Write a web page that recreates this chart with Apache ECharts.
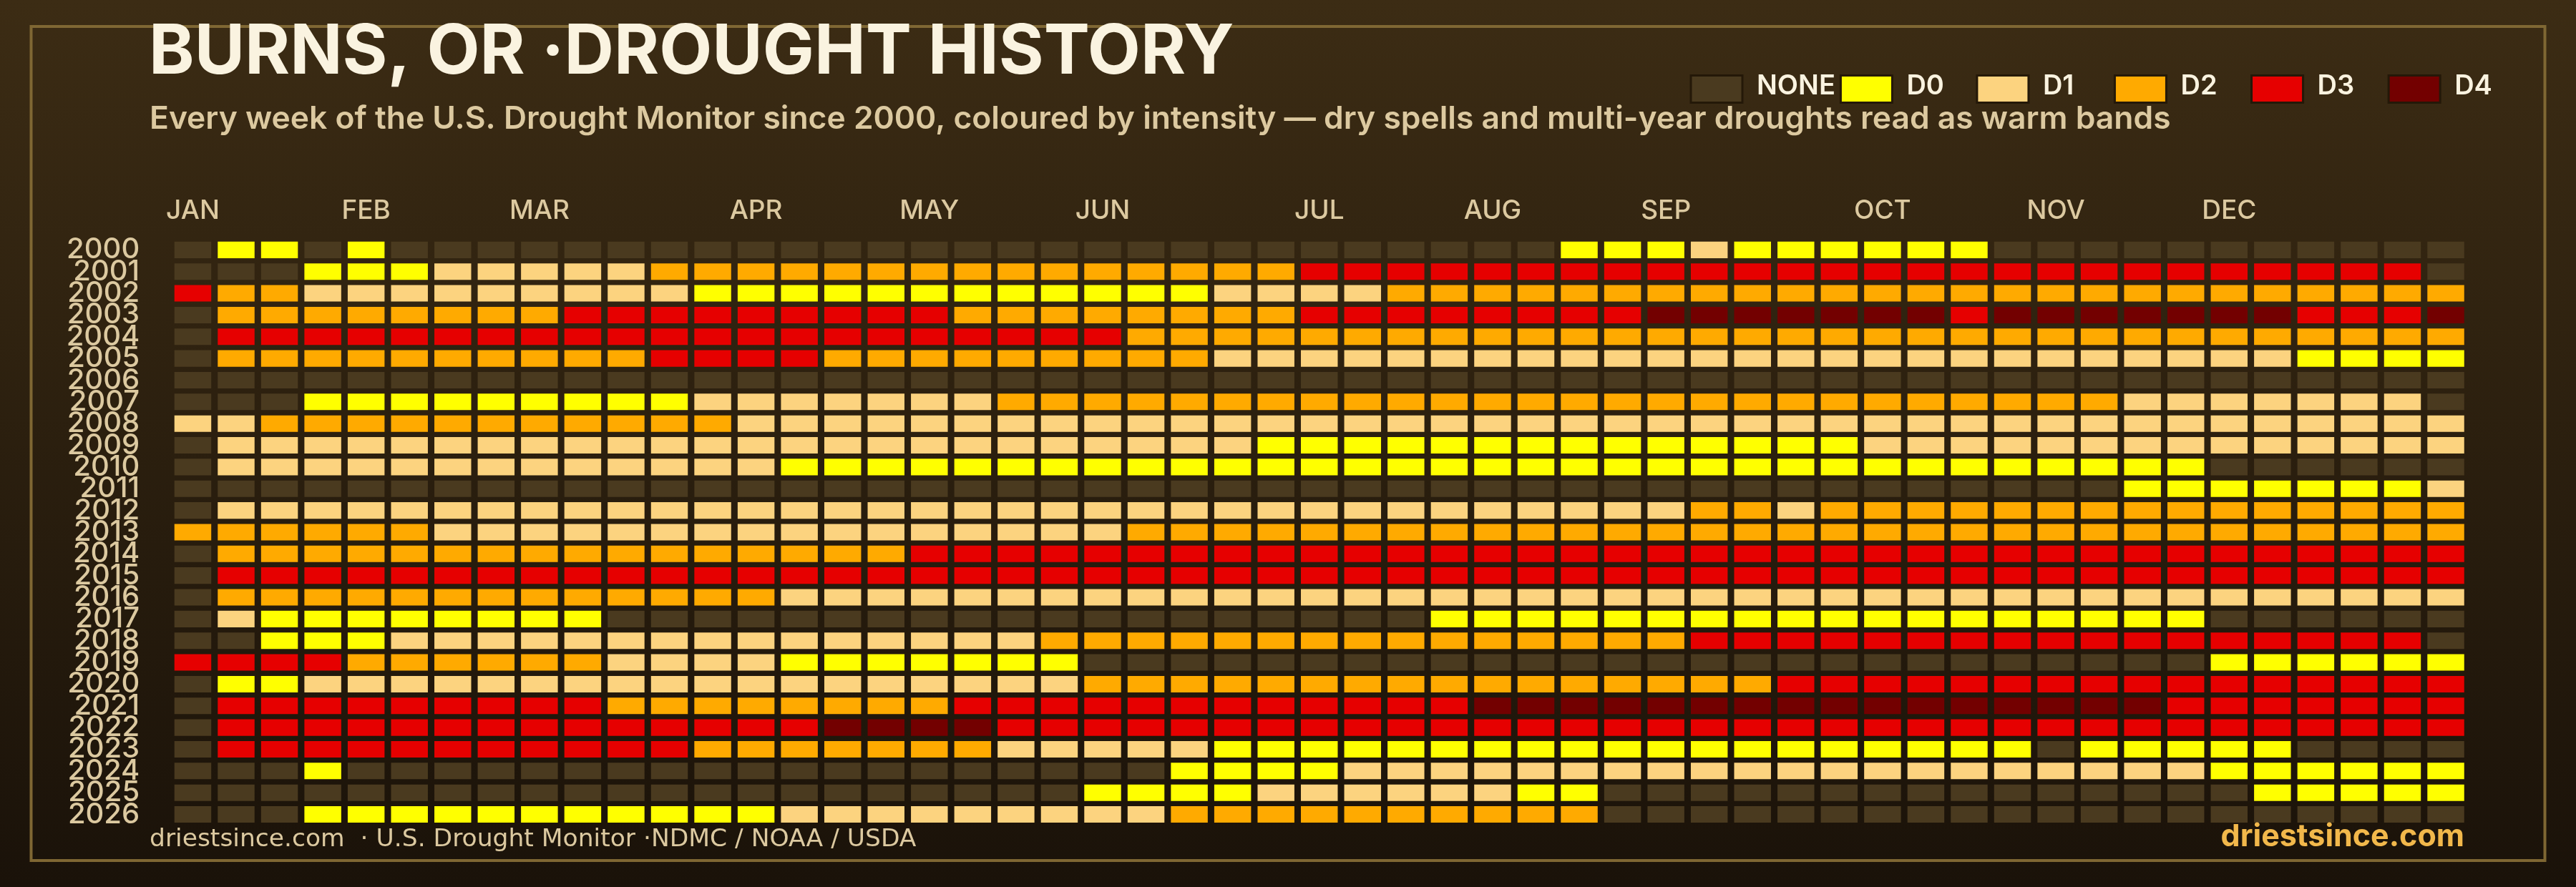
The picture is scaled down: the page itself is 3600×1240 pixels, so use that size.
<!DOCTYPE html>
<html><head><meta charset="utf-8">
<style>html,body{margin:0;padding:0;background:#1b130a}#c{width:3600px;height:1240px}</style>
<script src="https://cdn.jsdelivr.net/npm/echarts@6/dist/echarts.min.js"></script>
</head><body><div id="c"></div>
<script>
const years=['2000','2001','2002','2003','2004','2005','2006','2007','2008','2009','2010','2011','2012','2013','2014','2015','2016','2017','2018','2019','2020','2021','2022','2023','2024','2025','2026'];
const monthLabels=['JAN','FEB','MAR','APR','MAY','JUN','JUL','AUG','SEP','OCT','NOV','DEC'];
const monthWeeks=[0,4,8,13,17,21,26,30,34,39,43,47];
const levelNames=['NONE','D0','D1','D2','D3','D4'];
const levelColors=['#4a3a1f','#ffff00','#fcd37f','#ffaa00','#e60000','#730000'];
const w2000=[0,1,1,0,1,0,0,0,0,0, 0,0,0,0,0,0,0,0,0,0, 0,0,0,0,0,0,0,0,0,0, 0,0,1,1,1,2,1,1,1,1, 1,1,0,0,0,0,0,0,0,0, 0,0,0];
const w2001=[0,0,0,1,1,1,2,2,2,2, 2,3,3,3,3,3,3,3,3,3, 3,3,3,3,3,3,4,4,4,4, 4,4,4,4,4,4,4,4,4,4, 4,4,4,4,4,4,4,4,4,4, 4,4,0];
const w2002=[4,3,3,2,2,2,2,2,2,2, 2,2,1,1,1,1,1,1,1,1, 1,1,1,1,2,2,2,2,3,3, 3,3,3,3,3,3,3,3,3,3, 3,3,3,3,3,3,3,3,3,3, 3,3,3];
const w2003=[0,3,3,3,3,3,3,3,3,4, 4,4,4,4,4,4,4,4,3,3, 3,3,3,3,3,3,4,4,4,4, 4,4,4,4,5,5,5,5,5,5, 5,4,5,5,5,5,5,5,5,4, 4,4,5];
const w2004=[0,4,4,4,4,4,4,4,4,4, 4,4,4,4,4,4,4,4,4,4, 4,4,3,3,3,3,3,3,3,3, 3,3,3,3,3,3,3,3,3,3, 3,3,3,3,3,3,3,3,3,3, 3,3,3];
const w2005=[0,3,3,3,3,3,3,3,3,3, 3,4,4,4,4,3,3,3,3,3, 3,3,3,3,2,2,2,2,2,2, 2,2,2,2,2,2,2,2,2,2, 2,2,2,2,2,2,2,2,2,1, 1,1,1];
const w2006=[0,0,0,0,0,0,0,0,0,0, 0,0,0,0,0,0,0,0,0,0, 0,0,0,0,0,0,0,0,0,0, 0,0,0,0,0,0,0,0,0,0, 0,0,0,0,0,0,0,0,0,0, 0,0,0];
const w2007=[0,0,0,1,1,1,1,1,1,1, 1,1,2,2,2,2,2,2,2,3, 3,3,3,3,3,3,3,3,3,3, 3,3,3,3,3,3,3,3,3,3, 3,3,3,3,3,2,2,2,2,2, 2,2,0];
const w2008=[2,2,3,3,3,3,3,3,3,3, 3,3,3,2,2,2,2,2,2,2, 2,2,2,2,2,2,2,2,2,2, 2,2,2,2,2,2,2,2,2,2, 2,2,2,2,2,2,2,2,2,2, 2,2,2];
const w2009=[0,2,2,2,2,2,2,2,2,2, 2,2,2,2,2,2,2,2,2,2, 2,2,2,2,2,1,1,1,1,1, 1,1,1,1,1,1,1,1,1,2, 2,2,2,2,2,2,2,2,2,2, 2,2,2];
const w2010=[0,2,2,2,2,2,2,2,2,2, 2,2,2,2,1,1,1,1,1,1, 1,1,1,1,1,1,1,1,1,1, 1,1,1,1,1,1,1,1,1,1, 1,1,1,1,1,1,1,0,0,0, 0,0,0];
const w2011=[0,0,0,0,0,0,0,0,0,0, 0,0,0,0,0,0,0,0,0,0, 0,0,0,0,0,0,0,0,0,0, 0,0,0,0,0,0,0,0,0,0, 0,0,0,0,0,1,1,1,1,1, 1,1,2];
const w2012=[0,2,2,2,2,2,2,2,2,2, 2,2,2,2,2,2,2,2,2,2, 2,2,2,2,2,2,2,2,2,2, 2,2,2,2,2,3,3,2,3,3, 3,3,3,3,3,3,3,3,3,3, 3,3,3];
const w2013=[3,3,3,3,3,3,2,2,2,2, 2,2,2,2,2,2,2,2,2,2, 2,2,3,3,3,3,3,3,3,3, 3,3,3,3,3,3,3,3,3,3, 3,3,3,3,3,3,3,3,3,3, 3,3,3];
const w2014=[0,3,3,3,3,3,3,3,3,3, 3,3,3,3,3,3,3,4,4,4, 4,4,4,4,4,4,4,4,4,4, 4,4,4,4,4,4,4,4,4,4, 4,4,4,4,4,4,4,4,4,4, 4,4,4];
const w2015=[0,4,4,4,4,4,4,4,4,4, 4,4,4,4,4,4,4,4,4,4, 4,4,4,4,4,4,4,4,4,4, 4,4,4,4,4,4,4,4,4,4, 4,4,4,4,4,4,4,4,4,4, 4,4,4];
const w2016=[0,3,3,3,3,3,3,3,3,3, 3,3,3,3,2,2,2,2,2,2, 2,2,2,2,2,2,2,2,2,2, 2,2,2,2,2,2,2,2,2,2, 2,2,2,2,2,2,2,2,2,2, 2,2,2];
const w2017=[0,2,1,1,1,1,1,1,1,1, 0,0,0,0,0,0,0,0,0,0, 0,0,0,0,0,0,0,0,0,1, 1,1,1,1,1,1,1,1,1,1, 1,1,1,1,1,1,1,0,0,0, 0,0,0];
const w2018=[0,0,1,1,1,2,2,2,2,2, 2,2,2,2,2,2,2,2,2,2, 3,3,3,3,3,3,3,3,3,3, 3,3,3,3,3,4,4,4,4,4, 4,4,4,4,4,4,4,4,4,4, 4,4,0];
const w2019=[4,4,4,4,3,3,3,3,3,3, 2,2,2,2,1,1,1,1,1,1, 1,0,0,0,0,0,0,0,0,0, 0,0,0,0,0,0,0,0,0,0, 0,0,0,0,0,0,0,1,1,1, 1,1,1];
const w2020=[0,1,1,2,2,2,2,2,2,2, 2,2,2,2,2,2,2,2,2,2, 2,3,3,3,3,3,3,3,3,3, 3,3,3,3,3,3,3,4,4,4, 4,4,4,4,4,4,4,4,4,4, 4,4,4];
const w2021=[0,4,4,4,4,4,4,4,4,4, 3,3,3,3,3,3,3,3,4,4, 4,4,4,4,4,4,4,4,4,4, 5,5,5,5,5,5,5,5,5,5, 5,5,5,5,5,5,4,4,4,4, 4,4,4];
const w2022=[0,4,4,4,4,4,4,4,4,4, 4,4,4,4,4,5,5,5,5,4, 4,4,4,4,4,4,4,4,4,4, 4,4,4,4,4,4,4,4,4,4, 4,4,4,4,4,4,4,4,4,4, 4,4,4];
const w2023=[0,4,4,4,4,4,4,4,4,4, 4,4,3,3,3,3,3,3,3,2, 2,2,2,2,1,1,1,1,1,1, 1,1,1,1,1,1,1,1,1,1, 1,1,1,0,1,1,1,1,1,0, 0,0,0];
const w2024=[0,0,0,1,0,0,0,0,0,0, 0,0,0,0,0,0,0,0,0,0, 0,0,0,1,1,1,1,2,2,2, 2,2,2,2,2,2,2,2,2,2, 2,2,2,2,2,2,2,1,1,1, 1,1,1];
const w2025=[0,0,0,0,0,0,0,0,0,0, 0,0,0,0,0,0,0,0,0,0, 0,1,1,1,1,2,2,2,2,2, 2,1,1,0,0,0,0,0,0,0, 0,0,0,0,0,0,0,0,1,1, 1,1,1];
const w2026=[0,0,0,1,1,1,1,1,1,1, 1,1,1,1,2,2,2,2,2,2, 2,2,2,3,3,3,3,3,3,3, 3,3,3,0,0,0,0,0,0,0, 0,0,0,0,0,0,0,0,0,0, 0,0,0];
const weeklyLevels=[w2000,w2001,w2002,w2003,w2004,w2005,w2006,w2007,w2008,w2009,w2010,w2011,w2012,w2013,w2014,w2015,w2016,w2017,w2018,w2019,w2020,w2021,w2022,w2023,w2024,w2025,w2026];
const titleText='BURNS, OR ·DROUGHT HISTORY';
const subtitleText='Every week of the U.S. Drought Monitor since 2000, coloured by intensity — dry spells and multi-year droughts read as warm bands';
const sourceText='driestsince.com  · U.S. Drought Monitor ·NDMC / NOAA / USDA';
const brandText='driestsince.com';

const FONT='Inter, sans-serif';
const weeks=weeklyLevels[0].map((_,i)=>String(i));
function cell(params,api){
  const c=api.coord([api.value(0),api.value(1)]);
  const s=api.size([1,1]);
  const w=s[0]*0.85,h=s[1]*0.76;
  return {type:'rect',shape:{x:c[0]-w/2,y:c[1]-h/2,width:w,height:h},style:{fill:api.visual('color')}};
}
const series=levelNames.map((name,lv)=>{
  const data=[];
  weeklyLevels.forEach((row,y)=>row.forEach((v,x)=>{if(v===lv)data.push([x,y,v]);}));
  return {name,type:'custom',renderItem:cell,data,encode:{x:0,y:1},itemStyle:{color:levelColors[lv]},clip:false,silent:true};
});
const chart=echarts.init(document.getElementById('c'),null,{renderer:'canvas'});
const legendText={fontFamily:FONT,fontSize:38,fontWeight:600,color:'#faf3e0',lineHeight:38};
const legendPadRight={NONE:6,D0:44.5,D1:55.5,D2:46.5,D3:46.5,D4:46.5};
const legendRich={};
levelNames.forEach(n=>{legendRich[n]=Object.assign({padding:[0,legendPadRight[n],8,15]},legendText);});
chart.setOption({
  animation:false,
  backgroundColor:{type:'linear',x:0,y:0,x2:0,y2:1,colorStops:[{offset:0,color:'#3c2c14'},{offset:1,color:'#1a1209'}]},
  title:[
    {text:titleText,left:208,top:26,padding:0,textStyle:{fontFamily:FONT,fontSize:96.2,fontWeight:700,color:'#faf3e0',lineHeight:96}},
    {text:subtitleText,left:209,top:142,padding:0,textStyle:{fontFamily:FONT,fontSize:44.4,fontWeight:600,color:'#dcc9a0',lineHeight:50}}
  ],
  legend:{left:2361.5,top:101.5,padding:0,itemWidth:72,itemHeight:38,itemGap:0,selectedMode:false,icon:'rect',
    data:levelNames.map(n=>({name:n,itemStyle:{borderColor:'#241808',borderWidth:3}})),
    formatter:n=>`{${n}|${n}}`,
    textStyle:{rich:legendRich}},
  grid:{left:239.2,right:151.7,top:334.2,height:819.5,containLabel:false},
  xAxis:{type:'category',position:'top',data:weeks,axisLine:{show:false},axisTick:{show:false},splitLine:{show:false},
    axisLabel:{interval:0,margin:21,fontFamily:FONT,fontSize:37,fontWeight:500,color:'#dcc9a0',
      formatter:(v,i)=>{const k=monthWeeks.indexOf(i);return k>=0?monthLabels[k]:'';}}},
  yAxis:{type:'category',inverse:true,data:years,axisLine:{show:false},axisTick:{show:false},splitLine:{show:false},
    axisLabel:{interval:0,margin:44,fontFamily:FONT,fontSize:40,fontWeight:500,color:'#dcc9a0',lineHeight:40,padding:[0,0,6,0]}},
  graphic:[
    {type:'rect',z:0,shape:{x:43.5,y:37,width:3513,height:1166},style:{fill:'transparent',stroke:'#7f6733',lineWidth:4}},
    {type:'text',z:5,style:{text:sourceText,x:209,y:1174,verticalAlign:'middle',font:'400 34.5px "DejaVu Sans"',fill:'#dcc9a0'}},
    {type:'text',z:5,style:{text:brandText,x:3444,y:1170,align:'right',verticalAlign:'middle',font:'700 43px '+FONT,fill:'#f2b84b'}}
  ],
  series
});
</script></body></html>
